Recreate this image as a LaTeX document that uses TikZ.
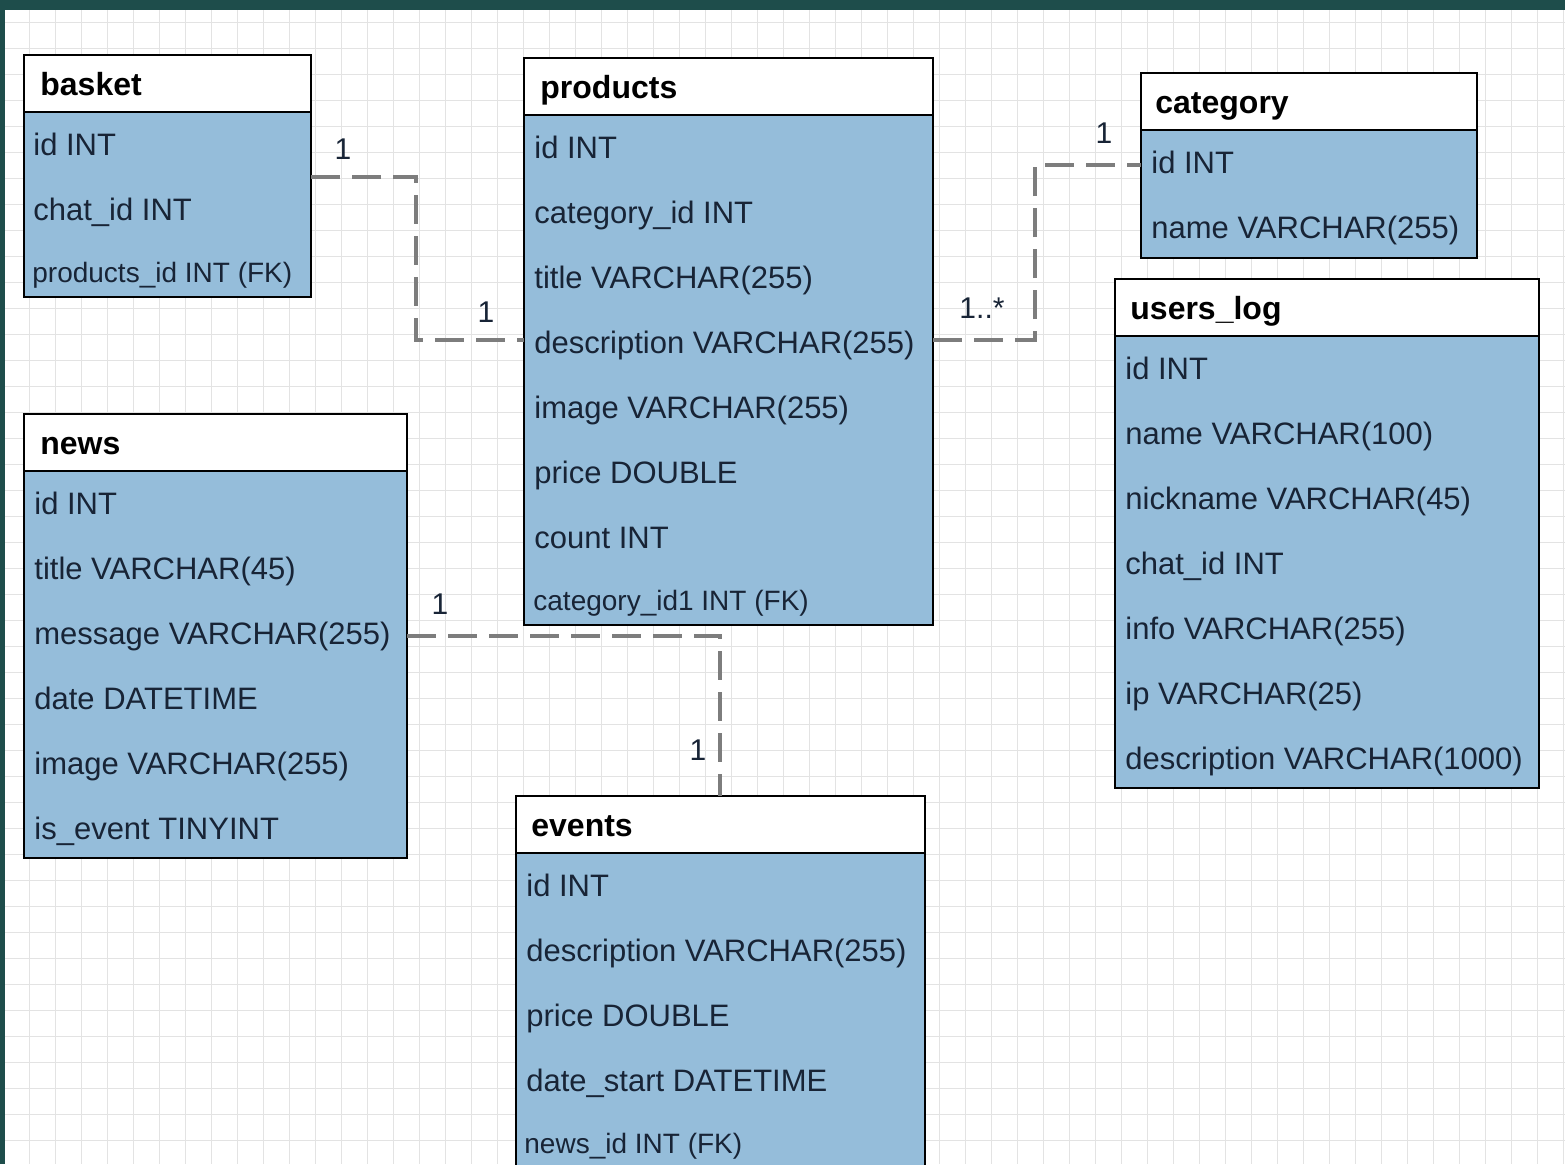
\documentclass[tikz,border=0pt]{standalone}
\usepackage{fontspec}
\setmainfont{Liberation Sans}
\usetikzlibrary{positioning}

\definecolor{tabfill}{RGB}{149,189,218}
\definecolor{frame}{RGB}{30,77,75}
\definecolor{linkgray}{RGB}{125,125,125}
\definecolor{rowtext}{RGB}{24,36,54}

\tikzset{
  head/.style={draw=black, line width=1pt, fill=white, anchor=north west, minimum height=28.5pt, inner sep=0pt, outer sep=0pt},
  body/.style={draw=black, line width=1pt, fill=tabfill, anchor=north west, inner sep=0pt, outer sep=0pt},
  title/.style={anchor=base west, inner sep=0pt, font=\fontsize{16}{19}\selectfont\bfseries},
  row/.style={anchor=base west, inner sep=0pt, text=rowtext, font=\fontsize{15.5}{18}\selectfont},
  fkrow/.style={row, font=\fontsize{14}{17}\selectfont},
  card/.style={inner sep=0pt, text=rowtext, font=\fontsize{15}{18}\selectfont},
  link/.style={draw=linkgray, line width=2pt, dash pattern=on 14.5pt off 6pt},
  gridline/.style={draw=black!11, line width=0.5pt},
}

\begin{document}
\begin{tikzpicture}[x=0.5pt, y=-0.5pt]%1 unit = 1 px of the screenshot

\useasboundingbox (0,0) rectangle (1565,1164);
\clip (0,0) rectangle (1565,1164);

	\fill [white] (0,0) rectangle (1565,1164);%background
	\foreach \i in {0,...,60}
	\draw [gridline] (3+26*\i,10)--(3+26*\i,1164);%grid x
	\foreach \j in {0,...,44}
	\draw [gridline] (5,22+26*\j)--(1565,22+26*\j);%grid y
	\fill [frame] (0,0) rectangle (1565,10);%window frame top
	\fill [frame] (0,0) rectangle (5,1164);%window frame left

	% basket
	\node [head, minimum width=143.5pt] (basket) at (24,55) {};
	\node [body, minimum width=143.5pt, minimum height=92.5pt] (basketbody) at (basket.south west) {};
	\node [title] (baskettitle) at (40,95) {basket};
	\foreach \f [count=\k from 0] in {id INT, chat\_id INT}
	\node [row] (basket\k) at (33,155+65*\k) {\f};
	\node [fkrow] (basketfk) at (32,282) {products\_id INT (FK)};

	% products
	\node [head, minimum width=204.5pt] (products) at (524,58) {};
	\node [body, minimum width=204.5pt, minimum height=255pt] (productsbody) at (products.south west) {};
	\node [title] (productstitle) at (540,98) {products};
	\foreach \f [count=\k from 0] in {id INT, category\_id INT, title VARCHAR(255), description VARCHAR(255), image VARCHAR(255), price DOUBLE, count INT}
	\node [row] (products\k) at (534,158+65*\k) {\f};
	\node [fkrow] (productsfk) at (533,610) {category\_id1 INT (FK)};

	% category
	\node [head, minimum width=168pt] (category) at (1141,73) {};
	\node [body, minimum width=168pt, minimum height=64pt] (categorybody) at (category.south west) {};
	\node [title] (categorytitle) at (1155,113) {category};
	\foreach \f [count=\k from 0] in {id INT, name VARCHAR(255)}
	\node [row] (category\k) at (1151,173+65*\k) {\f};

	% users_log
	\node [head, minimum width=212pt] (userslog) at (1115,279) {};
	\node [body, minimum width=212pt, minimum height=226pt] (userslogbody) at (userslog.south west) {};
	\node [title] (userslogtitle) at (1130,319) {users\_log};
	\foreach \f [count=\k from 0] in {id INT, name VARCHAR(100), nickname VARCHAR(45), chat\_id INT, info VARCHAR(255), ip VARCHAR(25), description VARCHAR(1000)}
	\node [row] (userslog\k) at (1125,379+65*\k) {\f};

	% news
	\node [head, minimum width=191.5pt] (news) at (24,414) {};
	\node [body, minimum width=191.5pt, minimum height=193.5pt] (newsbody) at (news.south west) {};
	\node [title] (newstitle) at (40,454) {news};
	\foreach \f [count=\k from 0] in {id INT, title VARCHAR(45), message VARCHAR(255), date DATETIME, image VARCHAR(255), is\_event TINYINT}
	\node [row] (news\k) at (34,514+65*\k) {\f};

	% events
	\node [head, minimum width=204.5pt] (events) at (516,796) {};
	\node [body, minimum width=204.5pt, minimum height=173.5pt] (eventsbody) at (events.south west) {};
	\node [title] (eventstitle) at (531,836) {events};
	\foreach \f [count=\k from 0] in {id INT, description VARCHAR(255), price DOUBLE, date\_start DATETIME}
	\node [row] (events\k) at (526,896+65*\k) {\f};
	\node [fkrow] (eventsfk) at (524,1153) {news\_id INT (FK)};

	% relations
	\coordinate (bp1) at (416,177);
	\coordinate (bp2) at (416,340);
	\draw [link] (basketbody.east |- bp1)--(bp1)--(bp2)--(productsbody.west |- bp2);%basket - products
	\coordinate (pc1) at (1035,340);
	\coordinate (pc2) at (1035,165);
	\draw [link] (productsbody.east |- pc1)--(pc1)--(pc2)--(categorybody.west |- pc2);%products - category
	\coordinate (ne1) at (720,636);
	\draw [link] (newsbody.east |- ne1)--(ne1)--(events.north -| ne1);%news - events

	\node [card] (cbasket) at (343,149) {1};
	\node [card] (cproducts) at (486,312) {1};
	\node [card] (cmany) at (982,308) {1..*};
	\node [card] (ccategory) at (1104,133) {1};
	\node [card] (cnews) at (440,604) {1};
	\node [card] (cevents) at (698,750) {1};
\end{tikzpicture}
\end{document}
